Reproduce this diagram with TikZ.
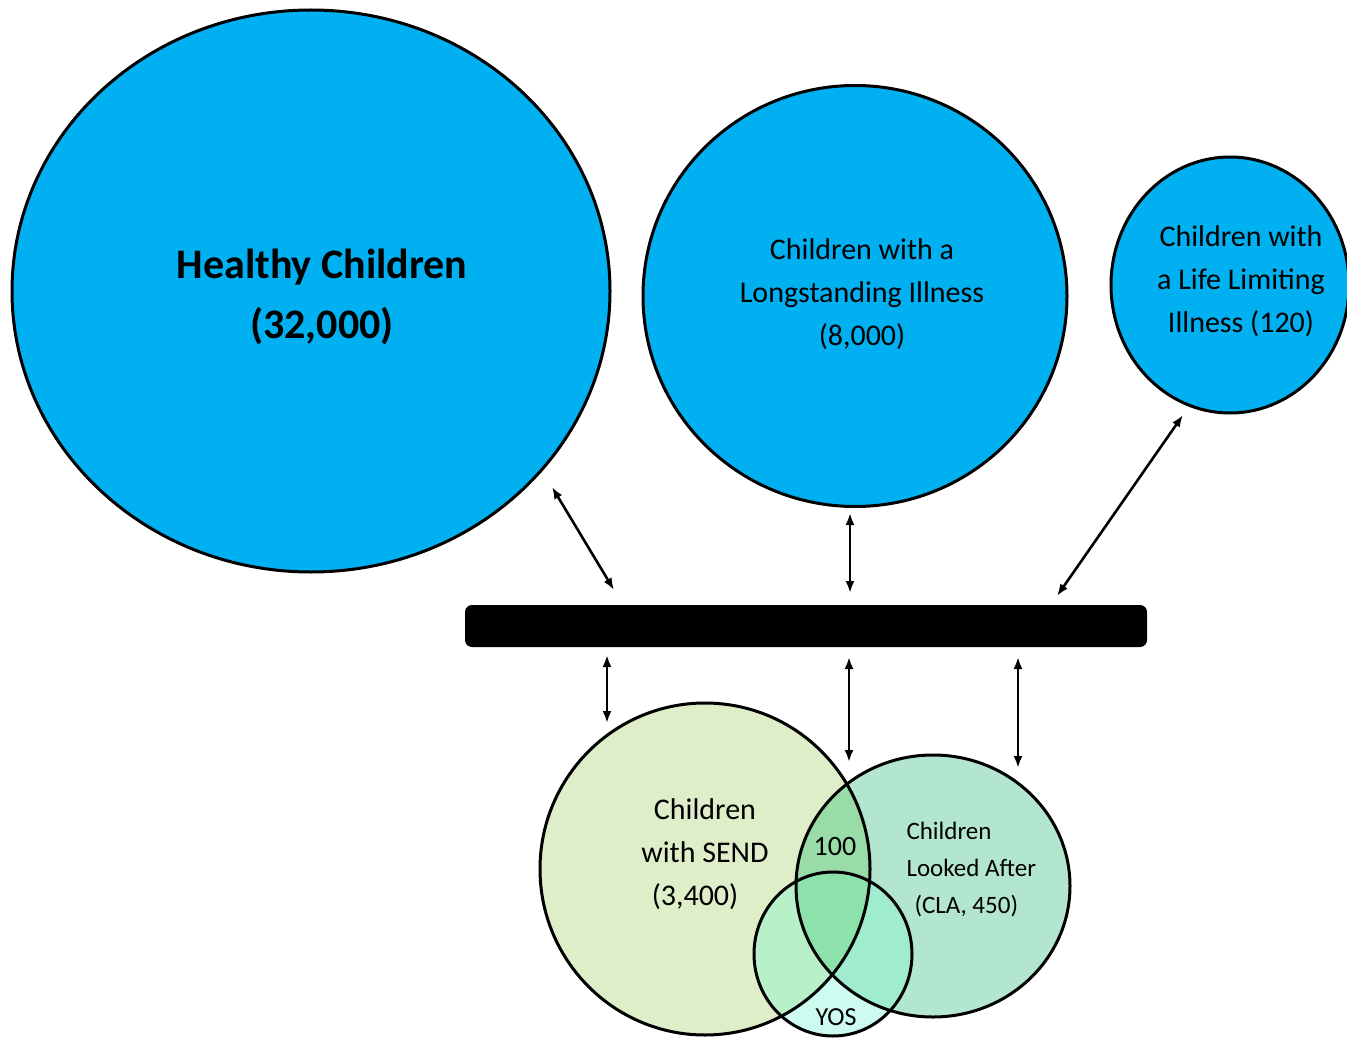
\documentclass[tikz,border=0pt]{standalone}
\usepackage{fontspec}
\setmainfont{Carlito}
\usetikzlibrary{shapes.geometric,arrows.meta}
\definecolor{bigblue}{HTML}{00B0F0}
\definecolor{sendc}{HTML}{DDEEC9}
\definecolor{clac}{HTML}{B3E6CF}
\definecolor{scc}{HTML}{99DCA7}
\definecolor{yosc}{HTML}{CDFBEF}
\definecolor{ysc}{HTML}{B7F0C9}
\definecolor{ycc}{HTML}{A0ECCE}
\definecolor{allc}{HTML}{8DE2AC}
\tikzset{
  bubble/.style={ellipse, draw=black, line width=3pt, fill=bigblue, inner sep=0pt},
  vennring/.style={ellipse, draw=black, line width=3pt, inner sep=0pt},
  biarrow/.style={{Latex[length=12pt,width=9pt]}-{Latex[length=12pt,width=9pt]}, line width=2.6pt},
  lbl/.style={align=center, text=black, font=\fontsize{30}{43}\selectfont},
}
\begin{document}
\begin{tikzpicture}[x=1pt,y=-1pt]
\useasboundingbox (0,0) rectangle (1347,1038);
% big circles
\node[bubble, minimum width=598pt, minimum height=562pt] (healthy) at (311,291) {};
\node[bubble, minimum width=424pt, minimum height=421pt] (longst) at (855,296) {};
\node[bubble, minimum width=238pt, minimum height=256pt] (lifelim) at (1230,285) {};
\node[align=center, font=\fontsize{42}{60}\selectfont\bfseries] (healthyt) at (322,297) {Healthy Children\\(32,000)};
\node[lbl] (longstt) at (862,294) {Children with a\\Longstanding Illness\\(8,000)};
\node[lbl] (lifelimt) at (1241,281) {Children with\\a Life Limiting\\Illness (120)};
% bar
\node[fill=black, rounded corners=7pt, minimum width=682pt, minimum height=42pt, inner sep=0pt] (bar) at (806,626) {};
% venn fills
\fill[sendc] (705,869) ellipse [x radius=165pt, y radius=166pt];
\fill[clac] (933,886) ellipse [x radius=137pt, y radius=131pt];
\begin{scope}
  \clip (705,869) ellipse [x radius=165pt, y radius=166pt];
  \fill[scc] (933,886) ellipse [x radius=137pt, y radius=131pt];
\end{scope}
\fill[yosc] (833,954) ellipse [x radius=79pt, y radius=82pt];
\begin{scope}
  \clip (833,954) ellipse [x radius=79pt, y radius=82pt];
  \fill[ysc] (705,869) ellipse [x radius=165pt, y radius=166pt];
  \fill[ycc] (933,886) ellipse [x radius=137pt, y radius=131pt];
  \begin{scope}
    \clip (705,869) ellipse [x radius=165pt, y radius=166pt];
    \fill[allc] (933,886) ellipse [x radius=137pt, y radius=131pt];
  \end{scope}
\end{scope}
% venn outlines
\node[vennring, minimum width=330pt, minimum height=332pt] (send) at (705,869) {};
\node[vennring, minimum width=274pt, minimum height=262pt] (cla) at (933,886) {};
\node[vennring, minimum width=158pt, minimum height=164pt] (yos) at (833,954) {};
% venn labels
\node[lbl] (sendt) at (705,854) {Children\\with SEND\\(3,400)\kern20pt};
\node[font=\fontsize{28}{34}\selectfont] (hundred) at (835,847) {100};
\node[anchor=west, align=left, font=\fontsize{25}{37}\selectfont] (clat) at (903,870) {Children\\Looked After\\\hspace*{8pt}(CLA, 450)};
\node[font=\fontsize{26}{30}\selectfont] (yost) at (836,1017) {YOS};
% arrow end points
\coordinate (h1) at (552,487);
\coordinate (b1) at (614,590);
\coordinate (l1) at (850,513);
\coordinate (b2) at (850,593);
\coordinate (f1) at (1183,415);
\coordinate (b3) at (1057,596);
\coordinate (b4) at (607,655);
\coordinate (s1) at (607,723);
\coordinate (b5) at (849,657);
\coordinate (s2) at (849,762);
\coordinate (b6) at (1018,657);
\coordinate (c1) at (1018,768);
\draw[biarrow] (h1) -- (b1);
\draw[biarrow] (l1) -- (b2);
\draw[biarrow] (f1) -- (b3);
\draw[biarrow] (b4) -- (s1);
\draw[biarrow] (b5) -- (s2);
\draw[biarrow] (b6) -- (c1);
\end{tikzpicture}
\end{document}
